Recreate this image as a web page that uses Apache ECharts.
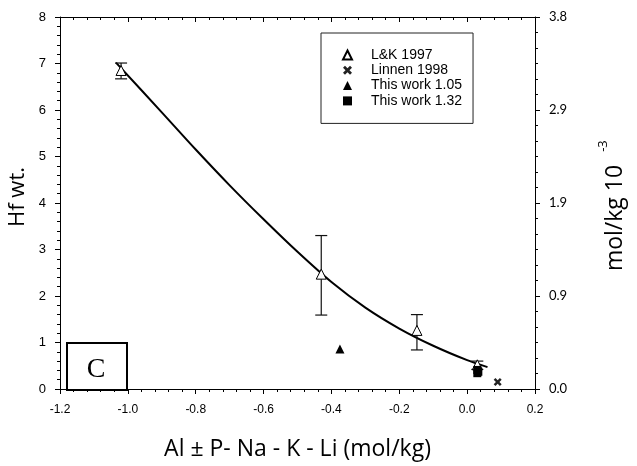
<!DOCTYPE html>
<html>
<head>
<meta charset="utf-8">
<script src="https://cdn.jsdelivr.net/npm/echarts@6/dist/echarts.min.js"></script>
<style>
  html,body{margin:0;padding:0;background:#fff;}
  #main{width:637px;height:466px;}
</style>
</head>
<body>
<div id="main"></div>
<script>
// L&K 1997 points with error bars
const lkX = [-1.02, -0.43, -0.148, 0.03];
const lkY = [6.85, 2.47, 1.26, 0.52];
const lkLow = [6.67, 1.59, 0.84, 0.42];
const lkHigh = [7.01, 3.30, 1.60, 0.60];
// Linnen 1998
const linX = [0.09];
const linY = [0.15];
// This work 1.05
const w105X = [-0.375];
const w105Y = [0.86];
// This work 1.32
const w132X = [0.03, 0.03, 0.033];
const w132Y = [0.34, 0.41, 0.37];
// fitted curve
const curveX = [-1.035, -0.9, -0.8, -0.7, -0.6, -0.5, -0.4, -0.3, -0.2, -0.1, 0.0, 0.06];
const curveY = [7.02, 5.95, 5.15, 4.38, 3.65, 2.95, 2.30, 1.75, 1.30, 0.93, 0.62, 0.47];
// right axis tick labels
const rightLabels = ['0.0', '0.9', '1.9', '2.9', '3.8'];

function zip(xs, ys){
  let out = [];
  for (let i = 0; i < xs.length; i++) out.push([xs[i], ys[i]]);
  return out;
}

const chart = echarts.init(document.getElementById('main'), null, {renderer: 'canvas'});
const font = 'Liberation Sans';

const crossPath = 'path://M0,2.2L2.2,0L5,2.8L7.8,0L10,2.2L7.2,5L10,7.8L7.8,10L5,7.2L2.2,10L0,7.8L2.8,5Z';

let errData = [];
for (let i = 0; i < lkX.length; i++) errData.push([lkX[i], lkLow[i], lkHigh[i]]);

let option = {
  animation: false,
  backgroundColor: '#fff',
  grid: {left: 60, right: 102, top: 17, bottom: 74},
  legend: {
    orient: 'vertical',
    left: 321,
    top: 33,
    padding: [14.5, 11, 15, 21],
    borderColor: '#222',
    borderWidth: 1,
    itemWidth: 9,
    itemHeight: 9,
    itemGap: 0.3,
    textStyle: {fontFamily: font, fontSize: 14, color: '#000', lineHeight: 15, padding: [0, 0, 0, 14]},
    data: ['L&K 1997', 'Linnen 1998', 'This work 1.05', 'This work 1.32']
  },
  xAxis: [{
    type: 'value',
    min: -1.2, max: 0.2, interval: 0.2,
    position: 'bottom',
    axisLine: {onZero: false, lineStyle: {color: '#000', width: 1}},
    axisTick: {inside: false, length: 5, lineStyle: {color: '#000'}},
    minorTick: {show: true, splitNumber: 5, length: 3, lineStyle: {color: '#000'}},
    splitLine: {show: false},
    axisLabel: {fontFamily: font, fontSize: 12, color: '#000', margin: 15,
      formatter: function(v){ return v.toFixed(1); }},
    name: 'Al ± P- Na - K - Li (mol/kg)',
    nameLocation: 'middle',
    nameGap: 49,
    nameTextStyle: {fontFamily: 'Open Sans', fontSize: 23, color: '#000'}
  }, {
    type: 'value',
    min: -1.2, max: 0.2, interval: 0.2,
    position: 'top',
    axisLine: {onZero: false, lineStyle: {color: '#000', width: 1}},
    axisTick: {inside: true, length: 5, lineStyle: {color: '#000'}},
    minorTick: {show: true, splitNumber: 5, length: 3, lineStyle: {color: '#000'}},
    splitLine: {show: false},
    axisLabel: {show: false}
  }],
  yAxis: [{
    type: 'value',
    min: 0, max: 8, interval: 1,
    position: 'left',
    axisLine: {show: true, onZero: false, lineStyle: {color: '#000', width: 1}},
    axisTick: {show: true, inside: false, length: 5, lineStyle: {color: '#000'}},
    minorTick: {show: true, splitNumber: 5, length: 3, lineStyle: {color: '#000'}},
    splitLine: {show: false},
    axisLabel: {fontFamily: font, fontSize: 13, color: '#000', margin: 14}
  }, {
    type: 'value',
    min: 0, max: 3.8, interval: 0.95,
    position: 'right',
    axisLine: {show: true, onZero: false, lineStyle: {color: '#000', width: 1}},
    axisTick: {show: true, inside: false, length: 5, lineStyle: {color: '#000'}},
    minorTick: {show: true, splitNumber: 6, length: 3, lineStyle: {color: '#000'}},
    splitLine: {show: false},
    axisLabel: {fontFamily: 'Lato', fontSize: 13, color: '#000', margin: 14,
      formatter: function(v, i){ return rightLabels[i]; }}
  }],
  series: [
    {
      name: 'curve',
      type: 'line',
      smooth: 0.3,
      showSymbol: false,
      symbol: 'none',
      lineStyle: {color: '#000', width: 2},
      data: zip(curveX, curveY),
      z: 2
    },
    {
      name: 'err',
      type: 'custom',
      renderItem: function(params, api){
        let top = api.coord([api.value(0), api.value(2)]);
        let bot = api.coord([api.value(0), api.value(1)]);
        let hw = 6;
        let st = {stroke: '#111', lineWidth: 1.2};
        return {type: 'group', children: [
          {type: 'line', shape: {x1: top[0], y1: top[1], x2: bot[0], y2: bot[1]}, style: st},
          {type: 'line', shape: {x1: top[0]-hw, y1: top[1], x2: top[0]+hw, y2: top[1]}, style: st},
          {type: 'line', shape: {x1: bot[0]-hw, y1: bot[1], x2: bot[0]+hw, y2: bot[1]}, style: st}
        ]};
      },
      data: errData,
      z: 3
    },
    {
      name: 'L&K 1997',
      type: 'scatter',
      symbol: 'triangle',
      symbolSize: 10,
      itemStyle: {color: '#fff', borderColor: '#000', borderWidth: 1, opacity: 1},
      data: zip(lkX, lkY),
      z: 4
    },
    {
      name: 'Linnen 1998',
      type: 'scatter',
      symbol: crossPath,
      symbolSize: 8,
      itemStyle: {color: '#222', opacity: 1},
      data: zip(linX, linY),
      z: 4
    },
    {
      name: 'This work 1.05',
      type: 'scatter',
      symbol: 'triangle',
      symbolSize: 9,
      itemStyle: {color: '#000', opacity: 1},
      data: zip(w105X, w105Y),
      z: 4
    },
    {
      name: 'This work 1.32',
      type: 'scatter',
      symbol: 'rect',
      symbolSize: 8,
      itemStyle: {color: '#000', opacity: 1},
      data: zip(w132X, w132Y),
      z: 5
    }
  ],
  graphic: [
    {type: 'rect', left: 66, top: 342, shape: {width: 60, height: 47},
      style: {fill: '#fff', stroke: '#000', lineWidth: 2}, z: 10},
    {type: 'text', x: 96, y: 370, z: 11,
      style: {text: 'C', font: '28px "Liberation Serif"', fill: '#000', align: 'center', verticalAlign: 'middle'}},
    {type: 'text', x: 18, y: 197, rotation: Math.PI / 2, z: 11,
      style: {text: 'Hf wt.', font: '22px "Open Sans"', fill: '#000', align: 'center', verticalAlign: 'middle'}},
    {type: 'text', x: 615, y: 218, rotation: Math.PI / 2, z: 11,
      style: {text: 'mol/kg 10', font: '23px "Open Sans"', fill: '#000', align: 'center', verticalAlign: 'middle'}},
    {type: 'text', x: 603, y: 146, rotation: Math.PI / 2, z: 11,
      style: {text: '-3', font: '13px "Open Sans"', fill: '#000', align: 'center', verticalAlign: 'middle'}}
  ]
};
chart.setOption(option);
</script>
</body>
</html>
